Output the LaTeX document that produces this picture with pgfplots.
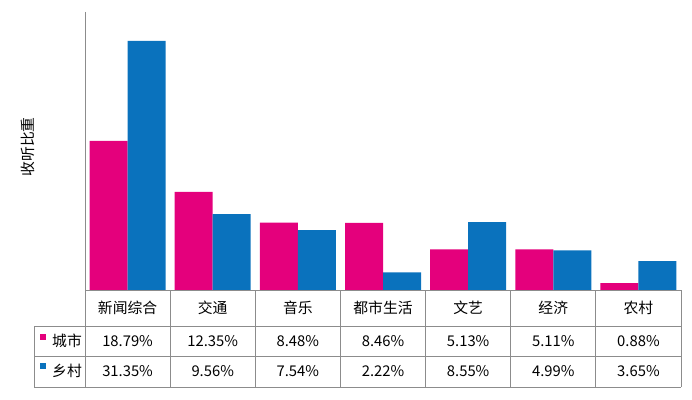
\documentclass[border=0pt]{standalone}
\usepackage{pgfplots}
\pgfplotsset{compat=1.18}
\usepackage{fontspec}
\setmainfont{Noto Sans CJK SC}
\definecolor{cpink}{HTML}{E4007C}
\definecolor{cblue}{HTML}{0A72BD}
\definecolor{cgray}{HTML}{8C8C8C}
\begin{document}
\begin{tikzpicture}[x=1pt,y=1pt,font=\fontsize{14.8}{16}\selectfont]
\useasboundingbox (0,0) rectangle (692,399);
\begin{axis}[at={(85pt,109pt)}, anchor=south west, scale only axis,
  width=596pt, height=278pt, xmin=-0.5, xmax=6.5, ymin=0, ymax=35,
  axis lines=none, ybar=0pt, bar width=38pt, clip=false]
\addplot[fill=cpink, draw=none] coordinates {(0,18.79) (1,12.35) (2,8.48) (3,8.46) (4,5.13) (5,5.11) (6,0.88)};
\addplot[fill=cblue, draw=none] coordinates {(0,31.35) (1,9.56) (2,7.54) (3,2.22) (4,8.55) (5,4.99) (6,3.65)};
\end{axis}
\begin{scope}[cgray, line width=1pt]
\draw (85,387) -- (85,12);
\draw (85,109) -- (681,109);
\draw (34,73) -- (681,73);
\draw (34,43) -- (681,43);
\draw (34,12) -- (681,12);
\draw (34,73) -- (34,12);
\foreach \k in {1,...,7} { \draw ({85+\k*85.143},109) -- ({85+\k*85.143},12); }
\end{scope}
\foreach \n/\a/\b [count=\i from 0] in {新闻综合/18.79\%/31.35\%, 交通/12.35\%/9.56\%, 音乐/8.48\%/7.54\%, 都市生活/8.46\%/2.22\%, 文艺/5.13\%/8.55\%, 经济/5.11\%/4.99\%, 农村/0.88\%/3.65\%} {
  \node at ({85+(\i+0.5)*85.143},91) {\n};
  \node at ({85+(\i+0.5)*85.143},58) {\a};
  \node at ({85+(\i+0.5)*85.143},28) {\b};
}
\fill[cpink] (40,59) rectangle (46,65);
\fill[cblue] (40,30) rectangle (46,36);
\node[anchor=west, inner sep=0pt] at (52,58) {城市};
\node[anchor=west, inner sep=0pt] at (52,28) {乡村};
\node[rotate=90] at (28,252) {收听比重};
\end{tikzpicture}
\end{document}
